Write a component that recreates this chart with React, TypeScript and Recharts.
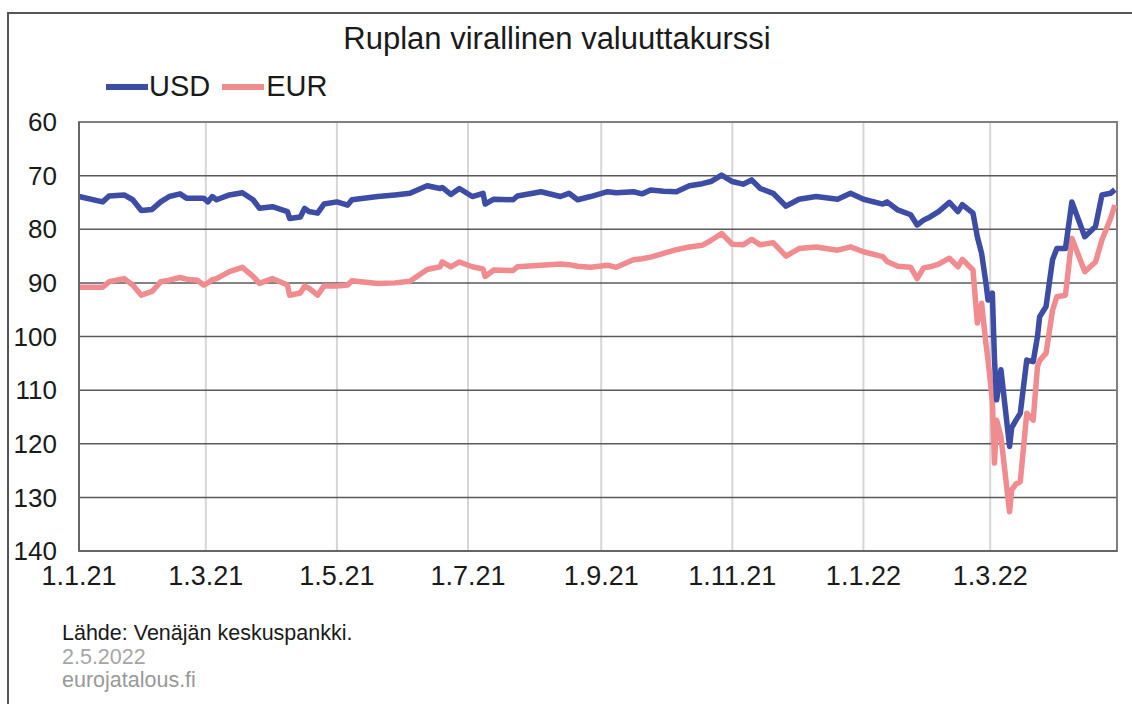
import { LineChart, Line, XAxis, YAxis, CartesianGrid, ReferenceArea } from "recharts"

// päiviä 1.1.2021 alkaen
const days = [
  0, 11, 14, 21, 25, 29, 34, 38, 42, 47, 50, 55, 58, 60, 62, 64, 70, 76, 81, 84,
  90, 97, 98, 103, 105, 107, 111, 114, 120, 125, 127, 139, 147, 154, 162, 168, 169, 173, 177, 183,
  188, 189, 193, 202, 204, 215, 224, 228, 232, 238, 246, 250, 258, 262, 266, 272, 278, 284, 290, 294,
  299, 304, 309, 313, 317, 323, 329, 335, 343, 353, 359, 365, 374, 376, 381, 387, 390, 393, 396, 400,
  405, 409, 411, 416, 418, 420, 422, 423, 425, 426, 427, 429, 433, 434, 436, 438, 441, 444, 446, 447,
  450, 453, 455, 459, 462, 468, 473, 476, 480, 482,
]

const usd = [
  73.9, 74.9, 73.8, 73.6, 74.5, 76.5, 76.3, 74.9, 73.9, 73.4, 74.2, 74.2, 74.2, 74.9, 73.9, 74.5, 73.6, 73.2, 74.5, 76.1,
  75.8, 76.7, 78.0, 77.7, 76.1, 76.7, 77.0, 75.3, 74.9, 75.5, 74.5, 73.9, 73.6, 73.3, 71.9, 72.4, 72.2, 73.5, 72.4, 73.9,
  73.3, 75.3, 74.4, 74.5, 73.8, 73.0, 73.9, 73.3, 74.5, 73.9, 73.0, 73.2, 73.0, 73.4, 72.7, 72.9, 73.0, 71.9, 71.5, 71.1,
  69.9, 71.1, 71.6, 70.8, 72.4, 73.3, 75.7, 74.4, 73.9, 74.4, 73.3, 74.4, 75.3, 74.9, 76.4, 77.3, 79.2, 78.3, 77.7, 76.7,
  75.0, 76.7, 75.4, 77.0, 81.4, 84.5, 90.0, 93.2, 91.9, 104.4, 111.8, 106.2, 120.5, 117.0, 115.6, 114.3, 104.4, 104.7, 100.0, 96.3,
  94.4, 85.7, 83.6, 83.6, 74.9, 81.4, 79.5, 73.6, 73.3, 72.6,
]

const eur = [
  90.8, 90.8, 89.8, 89.2, 90.4, 92.3, 91.6, 89.8, 89.5, 89.0, 89.3, 89.5, 90.4, 90.0, 89.4, 89.2, 87.9, 87.1, 88.8, 90.1,
  89.2, 90.4, 92.3, 91.9, 90.6, 91.0, 92.3, 90.6, 90.6, 90.4, 89.6, 90.1, 90.0, 89.7, 87.5, 87.0, 86.1, 87.0, 86.1, 87.0,
  87.4, 88.8, 87.6, 87.7, 87.0, 86.7, 86.5, 86.6, 86.9, 87.1, 86.7, 87.1, 85.7, 85.5, 85.2, 84.5, 83.8, 83.3, 83.0, 82.1,
  80.8, 82.8, 82.9, 81.9, 82.9, 82.5, 85.0, 83.6, 83.3, 83.9, 83.3, 84.2, 85.1, 86.0, 86.9, 87.1, 89.2, 87.2, 87.0, 86.5,
  85.4, 87.0, 85.6, 87.6, 97.5, 93.8, 101.3, 104.4, 112.0, 123.6, 115.6, 118.7, 132.7, 128.6, 127.5, 127.1, 114.3, 115.6, 105.6, 104.5,
  103.1, 95.1, 92.6, 92.3, 81.7, 87.9, 86.1, 82.0, 78.0, 75.5,
]

const xTicks = [0, 59, 120, 181, 243, 304, 365, 424]
const xTickLabels = ["1.1.21", "1.3.21", "1.5.21", "1.7.21", "1.9.21", "1.11.21", "1.1.22", "1.3.22"]
const yTicks = [60, 70, 80, 90, 100, 110, 120, 130, 140]

const data = days.map((d, i) => ({ day: d, usd: usd[i], eur: eur[i] }))

const font = "'Liberation Sans', Arial, sans-serif"
const USD_COLOR = "#3d4ca4"
const EUR_COLOR = "#f08b90"

export default function App() {
  return (
    <div
      style={{
        position: "absolute",
        left: 0,
        top: 0,
        width: 1132,
        height: 704,
        overflow: "hidden",
        background: "#fff",
        fontFamily: font,
        color: "#1a1a1a",
      }}
    >
      <div
        style={{
          position: "absolute",
          left: 7,
          top: 12,
          width: 1300,
          height: 900,
          borderTop: "2px solid #555",
          borderLeft: "2px solid #555",
        }}
      />
      <div style={{ position: "absolute", left: 0, width: 1114, top: 21, textAlign: "center", fontSize: 31 }}>
        Ruplan virallinen valuuttakurssi
      </div>
      <div style={{ position: "absolute", left: 106, top: 70, fontSize: 29, display: "flex", alignItems: "center" }}>
        <span style={{ display: "inline-block", width: 42, height: 6, background: USD_COLOR, marginRight: 1 }} />
        <span>USD</span>
        <span style={{ display: "inline-block", width: 42, height: 6, background: EUR_COLOR, marginLeft: 12, marginRight: 2 }} />
        <span>EUR</span>
      </div>

      <LineChart
        width={1132}
        height={704}
        data={data}
        margin={{ top: 122, right: 15, bottom: 113, left: 0 }}
        style={{ position: "absolute", left: 0, top: 0 }}
      >
        <CartesianGrid horizontal={false} stroke="#d6d6d6" strokeWidth={2} />
        <CartesianGrid vertical={false} stroke="#5a5a5a" strokeWidth={1.5} />
        <ReferenceArea x1={0} x2={483} y1={60} y2={140} fill="none" stroke="#808080" strokeWidth={2} />
        <XAxis
          dataKey="day"
          type="number"
          domain={[0, 483]}
          ticks={xTicks}
          tickFormatter={(v: number) => xTickLabels[xTicks.indexOf(v)]}
          height={40}
          tickLine={false}
          tickSize={0}
          tickMargin={15}
          axisLine={{ stroke: "#666", strokeWidth: 2 }}
          tick={{ fontSize: 27, fill: "#1a1a1a", fontFamily: font }}
          interval={0}
        />
        <YAxis
          reversed
          domain={[60, 140]}
          ticks={yTicks}
          width={79}
          tickLine={false}
          tickSize={0}
          tickMargin={22}
          axisLine={{ stroke: "#666", strokeWidth: 2 }}
          tick={{ fontSize: 26, fill: "#1a1a1a", fontFamily: font }}
          interval={0}
        />
        <Line dataKey="eur" stroke={EUR_COLOR} strokeWidth={5.5} dot={false} isAnimationActive={false} strokeLinejoin="round" />
        <Line dataKey="usd" stroke={USD_COLOR} strokeWidth={5.5} dot={false} isAnimationActive={false} strokeLinejoin="round" />
      </LineChart>

      <div style={{ position: "absolute", left: 62, top: 622, fontSize: 21.5, lineHeight: "23.5px" }}>
        <div style={{ color: "#1a1a1a" }}>Lähde: Venäjän keskuspankki.</div>
        <div style={{ color: "#a6a6a6" }}>2.5.2022</div>
        <div style={{ color: "#999" }}>eurojatalous.fi</div>
      </div>
    </div>
  )
}
